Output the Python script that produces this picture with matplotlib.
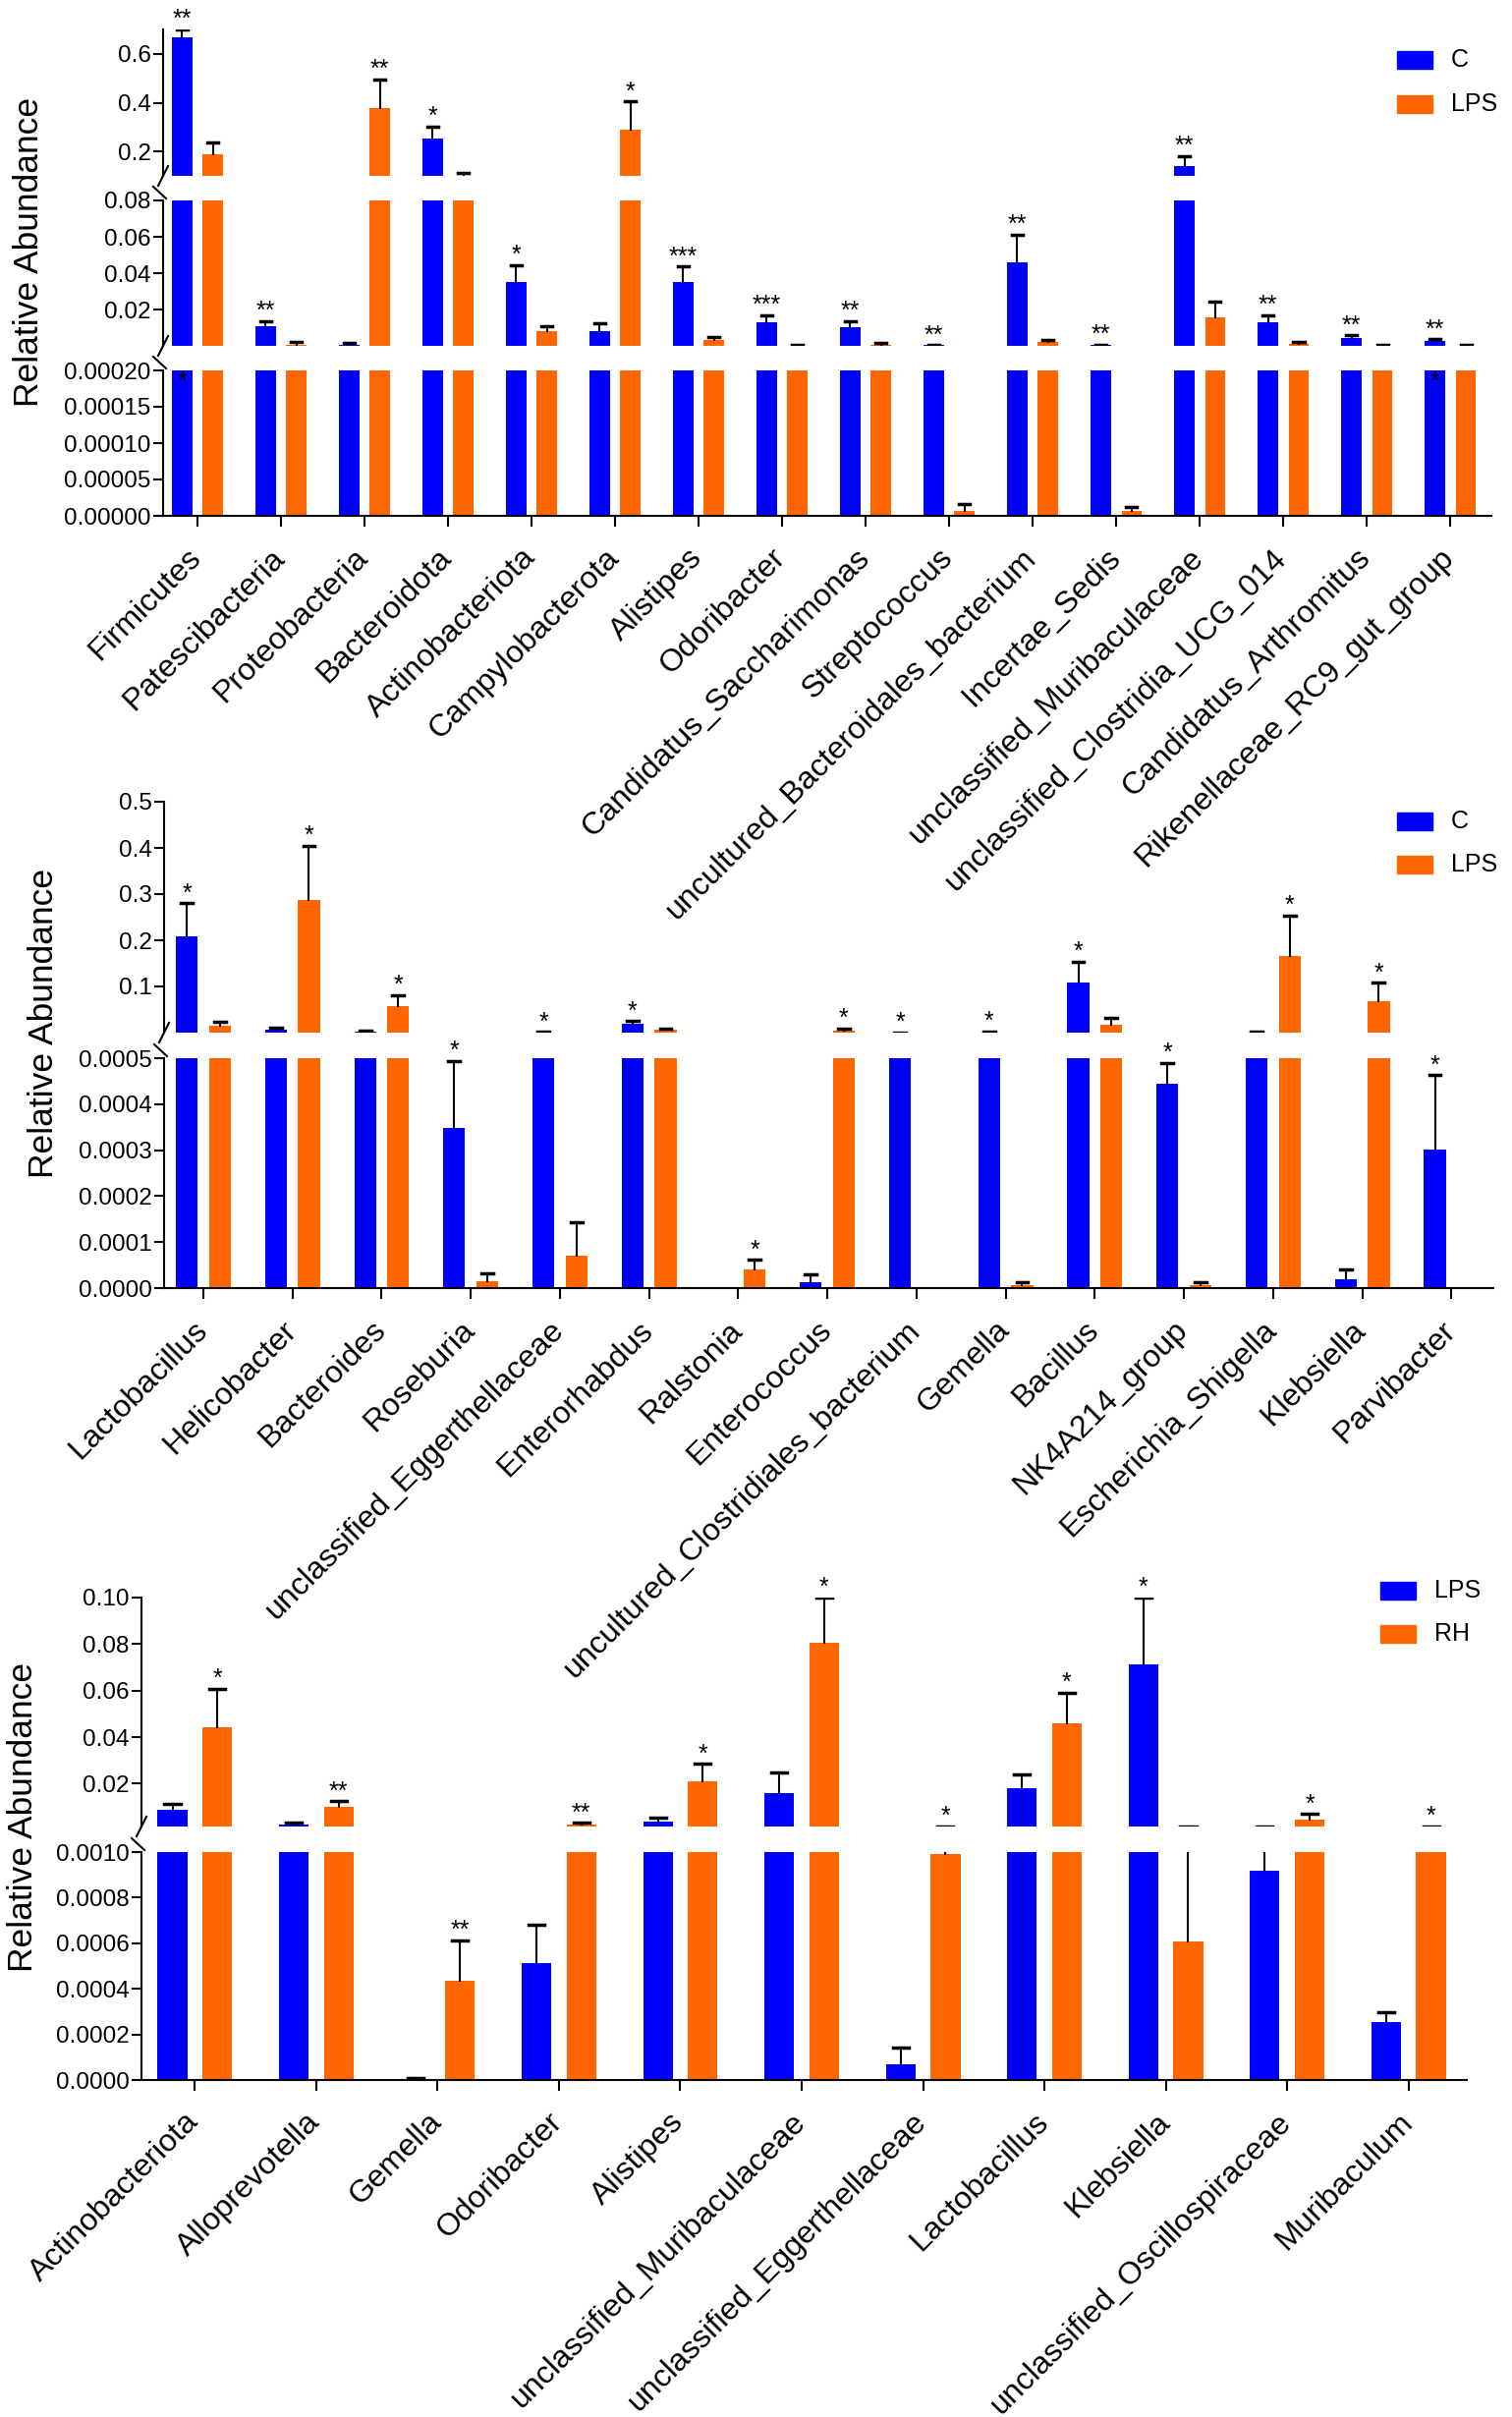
import numpy as np
import matplotlib
matplotlib.use('Agg')
import matplotlib.pyplot as plt
import matplotlib.transforms as mtransforms
from matplotlib.lines import Line2D
from matplotlib.patches import Rectangle

# ---- panel 1: C vs LPS ----
p1_names = ['Firmicutes', 'Patescibacteria', 'Proteobacteria', 'Bacteroidota',
            'Actinobacteriota', 'Campylobacterota', 'Alistipes', 'Odoribacter',
            'Candidatus_Saccharimonas', 'Streptococcus',
            'uncultured_Bacteroidales_bacterium', 'Incertae_Sedis',
            'unclassified_Muribaculaceae', 'unclassified_Clostridia_UCG_014',
            'Candidatus_Arthromitus', 'Rikenellaceae_RC9_gut_group']
p1_c = [0.669, 0.0108, 0.0008, 0.252, 0.0352, 0.0081, 0.0354, 0.0133,
        0.0106, 0.0005, 0.0463, 0.0006, 0.139, 0.0131, 0.0044, 0.0027]
p1_c_top = [0.700, 0.0138, 0.0020, 0.303, 0.0446, 0.0127, 0.0438, 0.0170,
            0.0137, 0.0006, 0.0613, 0.0008, 0.181, 0.0171, 0.0060, 0.0038]
p1_lps = [0.190, 0.0008, 0.378, 0.098, 0.0083, 0.288, 0.0035, 0.0004,
          0.0008, 0.0000073, 0.0025, 0.0000063, 0.0156, 0.0012, 0.0004, 0.0004]
p1_lps_top = [0.235, 0.0021, 0.495, 0.113, 0.0110, 0.405, 0.0050, 0.0005,
              0.0020, 0.000016, 0.0035, 0.0000121, 0.0246, 0.0023, 0.0005, 0.0005]
p1_c_sig = ['**', '**', '', '*', '*', '', '***', '***', '**', '**', '**', '**',
            '**', '**', '**', '**']
p1_lps_sig = ['', '', '**', '', '', '*', '', '', '', '', '', '', '', '', '', '']

# ---- panel 2: C vs LPS ----
p2_names = ['Lactobacillus', 'Helicobacter', 'Bacteroides', 'Roseburia',
            'unclassified_Eggerthellaceae', 'Enterorhabdus', 'Ralstonia',
            'Enterococcus', 'uncultured_Clostridiales_bacterium', 'Gemella',
            'Bacillus', 'NK4A214_group', 'Escherichia_Shigella', 'Klebsiella',
            'Parvibacter']
p2_c = [0.208, 0.0061, 0.0023, 0.000349, 0.0009, 0.0189, 0.0, 0.0000137,
        0.0008, 0.0015, 0.108, 0.000444, 0.0010, 0.0000191, 0.000301]
p2_c_top = [0.280, 0.0114, 0.0038, 0.000494, 0.0012, 0.0250, 0.0, 0.000029,
            0.0010, 0.0020, 0.153, 0.00049, 0.0012, 0.0000404, 0.000463]
p2_lps = [0.0152, 0.288, 0.0568, 0.0000152, 0.0000709, 0.0061, 0.0000404,
          0.0053, 0.0, 0.0000061, 0.0174, 0.0000061, 0.165, 0.0689, 0.0]
p2_lps_top = [0.0227, 0.405, 0.081, 0.0000328, 0.000143, 0.0091, 0.000061,
              0.0091, 0.0, 0.0000122, 0.0326, 0.0000137, 0.253, 0.1076, 0.0]
p2_c_sig = ['*', '', '', '*', '*', '*', '', '', '*', '*', '*', '*', '', '', '*']
p2_lps_sig = ['', '*', '*', '', '', '', '*', '*', '', '', '', '', '*', '*', '']

# ---- panel 3: LPS vs RH ----
p3_names = ['Actinobacteriota', 'Alloprevotella', 'Gemella', 'Odoribacter',
            'Alistipes', 'unclassified_Muribaculaceae',
            'unclassified_Eggerthellaceae', 'Lactobacillus', 'Klebsiella',
            'unclassified_Oscillospiraceae', 'Muribaculum']
p3_lps = [0.0087, 0.0025, 0.0000046, 0.000514, 0.0037, 0.0159, 0.000069,
          0.0182, 0.0713, 0.00092, 0.000253]
p3_lps_top = [0.0115, 0.0032, 0.0000107, 0.000683, 0.0055, 0.0248, 0.000141,
              0.0238, 0.100, 0.0017, 0.000299]
p3_rh = [0.0442, 0.0100, 0.000436, 0.0025, 0.0211, 0.0804, 0.00099, 0.0461,
         0.000606, 0.0046, 0.0015]
p3_rh_top = [0.0608, 0.0125, 0.000612, 0.0032, 0.0285, 0.100, 0.0017, 0.059,
             0.0017, 0.0070, 0.0017]
p3_lps_sig = ['', '', '', '', '', '', '', '', '*', '', '']
p3_rh_sig = ['*', '**', '**', '**', '*', '*', '*', '*', '', '*', '*']

W, H = 1539, 2460
BLUE = '#0000FF'
ORANGE = '#FF6600'

plt.rcParams['font.family'] = ['Liberation Sans', 'DejaVu Sans']

fig = plt.figure(figsize=(W / 100, H / 100), dpi=100)
shift = mtransforms.ScaledTranslation(10 / 100, 0, fig.dpi_scale_trans)


def px_rect(x0, x1, y0, y1):
    return [x0 / W, 1 - y1 / H, (x1 - x0) / W, (y1 - y0) / H]


def fig_line(xs, ys):
    fig.add_artist(Line2D([v / W for v in xs], [1 - v / H for v in ys],
                          color='black', lw=1.5, transform=fig.transFigure))


def draw_panel(names, a, a_top, a_sig, b, b_top, b_sig, segs, xspan, xlim,
               legend, leg_x, leg_y, ylab_xy):
    x = np.arange(len(names))
    axes = []
    for i, (y0, y1, lo, hi, ticks, fmt) in enumerate(segs):
        ax = fig.add_axes(px_rect(xspan[0], xspan[1], y0, y1))
        ax.patch.set_visible(False)
        last = i == len(segs) - 1
        # in upper segments skip bars too short to show (avoid hairlines)
        limit = lo + 0.003 * (hi - lo)
        below = 0 if last else segs[i + 1][3]
        for off, vals, col in [(-0.185, a, BLUE), (0.185, b, ORANGE)]:
            keep = [k for k, v in enumerate(vals) if v > (0 if last else limit)]
            ax.bar(x[keep] + off, [vals[k] for k in keep], width=0.245,
                   color=col, linewidth=0)
        for xs, vals, tops in [(x - 0.185, a, a_top), (x + 0.185, b, b_top)]:
            for xi, v, t in zip(xs, vals, tops):
                if t <= v or t <= below:
                    continue
                ax.plot([xi, xi], [v, t], color='black', lw=1.5)
                ax.plot([xi - 0.065, xi + 0.065], [t, t], color='black', lw=2.5)
        ax.set_xlim(*xlim)
        ax.set_ylim(lo, hi)
        ax.set_yticks(ticks)
        ax.set_yticklabels([fmt % t for t in ticks], fontsize=17.5)
        ax.tick_params(axis='y', length=7, width=1.5, pad=2)
        for s in ['top', 'right']:
            ax.spines[s].set_visible(False)
        ax.spines['left'].set_linewidth(1.5)
        if not last:
            ax.spines['bottom'].set_visible(False)
            ax.set_xticks([])
        else:
            ax.spines['bottom'].set_linewidth(1.5)
            ax.set_xticks(x)
            ax.set_xticklabels(names, rotation=45, ha='right', fontsize=23)
            ax.tick_params(axis='x', length=8, width=1.5, pad=12)
            for lab in ax.get_xticklabels():
                lab.set_transform(lab.get_transform() + shift)
        axes.append(ax)

    # significance marks: put on the lowest segment that holds the cap
    for xs, tops, sig in [(x - 0.185, a_top, a_sig), (x + 0.185, b_top, b_sig)]:
        for xi, t, s in zip(xs, tops, sig):
            if not s:
                continue
            k = len(segs) - 1
            while k > 0 and t > segs[k][3]:
                k -= 1
            axes[k].annotate(s, (xi, t), xytext=(0, 2), textcoords='offset points',
                             ha='center', va='baseline', fontsize=18,
                             annotation_clip=False)

    # axis break marks
    xa = xspan[0]
    for i in range(len(segs) - 1):
        yb = segs[i][1]
        yt = segs[i + 1][0]
        fig_line([xa - 5, xa + 5], [yb + 10, yb - 10])
        fig_line([xa - 10, xa + 3], [yt - 14, yt - 2])

    # legend
    for k, (lab, col) in enumerate(zip(legend, [BLUE, ORANGE])):
        yc = leg_y[k]
        fig.add_artist(Rectangle((leg_x / W, 1 - (yc + 9) / H), 36 / W, 18 / H,
                                 color=col, transform=fig.transFigure))
        fig.text((leg_x + 55) / W, 1 - yc / H, lab, fontsize=18,
                 ha='left', va='center')

    fig.text(ylab_xy[0] / W, 1 - ylab_xy[1] / H, 'Relative Abundance',
             rotation=90, fontsize=25.5, ha='center', va='center')
    return axes


ax1 = draw_panel(
    p1_names, p1_c, p1_c_top, p1_c_sig, p1_lps, p1_lps_top, p1_lps_sig,
    [(30, 179, 0.1, 0.7, [0.2, 0.4, 0.6], '%.1f'),
     (204, 352, 0.0002, 0.08, [0.02, 0.04, 0.06, 0.08], '%.2f'),
     (377, 525, 0.0, 0.0002, [0, 0.00005, 0.0001, 0.00015, 0.0002], '%.5f')],
    (166, 1518), (-0.41, 15.49), ['C', 'LPS'], 1422, [61, 106], (30, 256))

# stray star marks sitting on the lower segment
for xi in [0 - 0.185, 15 - 0.185]:
    ax1[2].annotate('*', (xi, 0.0002), xytext=(0, 0), textcoords='offset points',
                    ha='center', va='top', fontsize=18)

draw_panel(
    p2_names, p2_c, p2_c_top, p2_c_sig, p2_lps, p2_lps_top, p2_lps_sig,
    [(816, 1051, 0.0, 0.5, [0.1, 0.2, 0.3, 0.4, 0.5], '%.1f'),
     (1077, 1311, 0.0, 0.0005, [0, 0.0001, 0.0002, 0.0003, 0.0004, 0.0005], '%.4f')],
    (167, 1520), (-0.44, 14.47), ['C', 'LPS'], 1422, [836, 880], (45, 1041))

draw_panel(
    p3_names, p3_lps, p3_lps_top, p3_lps_sig, p3_rh, p3_rh_top, p3_rh_sig,
    [(1626, 1859, 0.0016, 0.10, [0.02, 0.04, 0.06, 0.08, 0.10], '%.2f'),
     (1885, 2117, 0.0, 0.001, [0, 0.0002, 0.0004, 0.0006, 0.0008, 0.0010], '%.4f')],
    (144, 1493), (-0.44, 10.48), ['LPS', 'RH'], 1405, [1619, 1663], (24, 1849))

fig.savefig('out.png', dpi=100)
